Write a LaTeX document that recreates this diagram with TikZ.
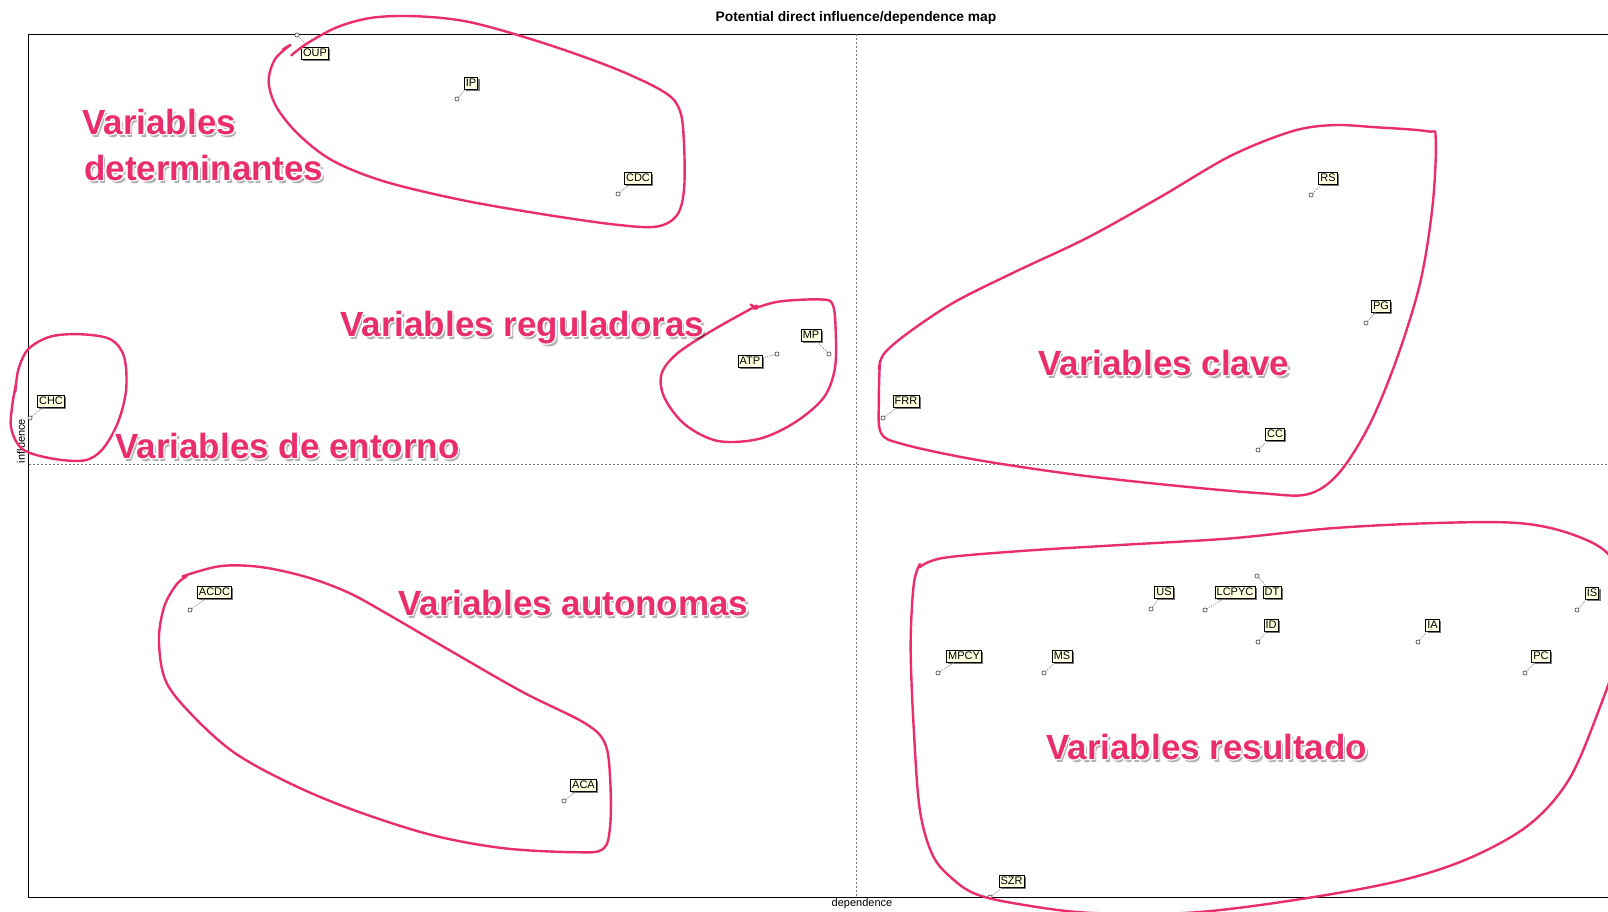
\documentclass[tikz,border=0pt]{standalone}
\usepackage{fontspec}
\setmainfont{Liberation Sans}
\usetikzlibrary{shadows}
\definecolor{vpink}{RGB}{234,46,108}
\definecolor{cream}{RGB}{255,255,226}
\tikzset{
  pinkline/.style={draw=vpink, line width=2.4pt, line cap=round, line join=round},
  lbl/.style={draw=black, fill=cream, line width=0.7pt, inner xsep=1.6pt, inner ysep=1.1pt,
     text height=8pt, text depth=2pt, font=\fontsize{11}{11}\selectfont,
     drop shadow={shadow xshift=1.8pt, shadow yshift=-1.8pt, opacity=0.7, fill=black!75}},
  pt/.style={circle, draw=black!75, fill=white, line width=0.6pt, inner sep=0pt, minimum size=4.2pt},
  leader/.style={draw=black!45, line width=0.7pt, dash pattern=on 1.2pt off 1pt},
  axisdash/.style={draw=black!55, line width=0.6pt, dash pattern=on 2pt off 2pt},
  bigtxt/.style={anchor=base west, inner sep=0pt, font=\fontsize{35}{35}\selectfont\bfseries, text=vpink},
}
\newcommand\lab[6]{%
  \node[lbl] (#1) at (#3,#4) {#2};
  \node[pt] (m#1) at (#5,#6) {};
  \draw[leader] (m#1) -- (#1);
}
\newcommand\vtxt[4]{%
  \node[bigtxt, text=black, opacity=0.3] at (#2+2.5,#3+3) {#4};
  \foreach \dx/\dy in {1.6/0,-1.6/0,0/1.6,0/-1.6,1.1/1.1,-1.1/1.1,1.1/-1.1,-1.1/-1.1}
    {\node[bigtxt, text=white] at (#2+\dx,#3+\dy) {#4};}
  \node[bigtxt] (#1) at (#2,#3) {#4};
}
\begin{document}
\begin{tikzpicture}[x=1pt,y=-1pt]
\useasboundingbox[fill=white] (0,0) rectangle (1608,911);
% frame
\coordinate (tl) at (28.7,34);
\coordinate (bl) at (28.7,897);
\coordinate (tr) at (1608,34);
\coordinate (br) at (1608,897);
\draw[line width=0.9pt] (tr) -- (tl) -- (bl) -- (br);
% axes
\coordinate (vt) at (856,34);
\coordinate (vb) at (856,897);
\coordinate (hl) at (28.7,464.6);
\coordinate (hr) at (1608,464.6);
\draw[axisdash] (vt) -- (vb);
\draw[axisdash] (hl) -- (hr);
% titles
\node[font=\fontsize{13.8}{13.8}\selectfont\bfseries, inner sep=0pt] (title) at (856,17.5) {Potential direct influence/dependence map};
\node[font=\fontsize{11}{11}\selectfont, inner sep=0pt] (xlab) at (862,904) {dependence};
\node[font=\fontsize{11}{11}\selectfont, inner sep=0pt, rotate=90] (ylab) at (21,441) {influence};
% labels
\lab{OUP}{OUP}{315}{53}{297}{35}
\lab{IP}{IP}{471}{83}{457}{99}
\lab{CDC}{CDC}{638}{178}{618}{194}
\lab{CHC}{CHC}{51}{401}{30}{418}
\lab{ATP}{ATP}{750}{361}{777}{354}
\lab{MP}{MP}{811}{335.5}{829}{354}
\lab{FRR}{FRR}{906}{401}{883}{418}
\lab{RS}{RS}{1328}{178.5}{1311}{195}
\lab{PG}{PG}{1381}{306}{1366}{323}
\lab{CC}{CC}{1275}{434}{1258}{450}
\lab{US}{US}{1164}{592}{1151}{609}
\lab{LCPYC}{LCPYC}{1235}{592}{1205}{610}
\lab{DT}{DT}{1272}{592}{1257}{576}
\lab{ID}{ID}{1271}{625.5}{1258}{642}
\lab{MPCY}{MPCY}{964}{656}{938}{673}
\lab{MS}{MS}{1062}{656}{1044}{673}
\lab{IA}{IA}{1432.5}{625}{1418}{642}
\lab{IS}{IS}{1592}{593}{1577}{610}
\lab{PC}{PC}{1541}{656}{1525}{673}
\lab{ACDC}{ACDC}{214.5}{592.5}{190}{610}
\lab{ACA}{ACA}{583.5}{785}{564}{801}
\lab{SZR}{SZR}{1011.5}{881}{990}{897}
% hand-drawn loops
\begin{scope}[scale=1.0255]
\draw[pinkline] plot[smooth, tension=0.55] coordinates {(283,44) (268,58) (262,80) (270,105) (292,132) (325,157) (375,177) (450,195) (530,209) (600,219) (640,221) (660,210) (667,185) (667,140) (663,108) (648,90) (600,67) (530,42) (460,22) (410,16) (365,17) (330,26) (300,42) (284,54)};
\draw[pinkline] (276,48) -- (283,44);
\draw[pinkline] plot[smooth, tension=0.55] coordinates {(16,372) (12,395) (11,418) (22,438) (50,447) (82,449) (100,438) (115,412) (123,380) (121,348) (108,331) (80,326) (50,328) (28,340) (18,360) (15,382)};
\draw[pinkline] plot[smooth, tension=0.55] coordinates {(735,301) (760,294) (800,292) (812,297) (815,325) (814,360) (803,388) (775,412) (740,428) (700,430) (668,414) (648,388) (645,365) (660,345) (695,322) (738,298)};
\draw[pinkline] (732,297) -- (738,301);
\draw[pinkline] plot[smooth, tension=0.55] coordinates {(858,352) (857,390) (859,422) (880,433) (950,448) (1050,463) (1150,474) (1230,481) (1275,482) (1305,462) (1335,415) (1362,350) (1385,275) (1397,200) (1400,135) (1392,128) (1340,124) (1300,122) (1260,128) (1200,152) (1130,193) (1060,232) (990,265) (930,295) (885,325) (862,345) (857,360)};
\draw[pinkline] plot[smooth, tension=0.55] coordinates {(178,562) (215,552) (255,553) (300,563) (340,578) (380,600) (440,635) (510,675) (570,705) (590,725) (595,760) (595,805) (588,828) (560,831) (490,827) (420,814) (345,790) (285,765) (230,735) (190,700) (162,665) (155,625) (160,592) (172,570) (182,562)};
\draw[pinkline] plot[smooth, tension=0.55] coordinates {(897,553) (920,544) (1000,537) (1100,531) (1200,525) (1300,515) (1400,510) (1480,510) (1530,520) (1568,540) (1585,580) (1580,630) (1560,690) (1530,760) (1490,805) (1430,838) (1360,860) (1260,878) (1160,890) (1060,890) (990,881) (952,872) (930,858) (910,835) (897,790) (891,710) (888,630) (891,570) (897,550)};
\end{scope}
% annotations
\vtxt{tdet1}{82}{134}{Variables}
\vtxt{tdet2}{84}{180}{determinantes}
\vtxt{treg}{340}{336}{Variables reguladoras}
\vtxt{tent}{115}{458}{Variables de entorno}
\vtxt{tcla}{1038}{375}{Variables clave}
\vtxt{taut}{398}{615}{Variables autonomas}
\vtxt{tres}{1046}{759}{Variables resultado}
\end{tikzpicture}
\end{document}
